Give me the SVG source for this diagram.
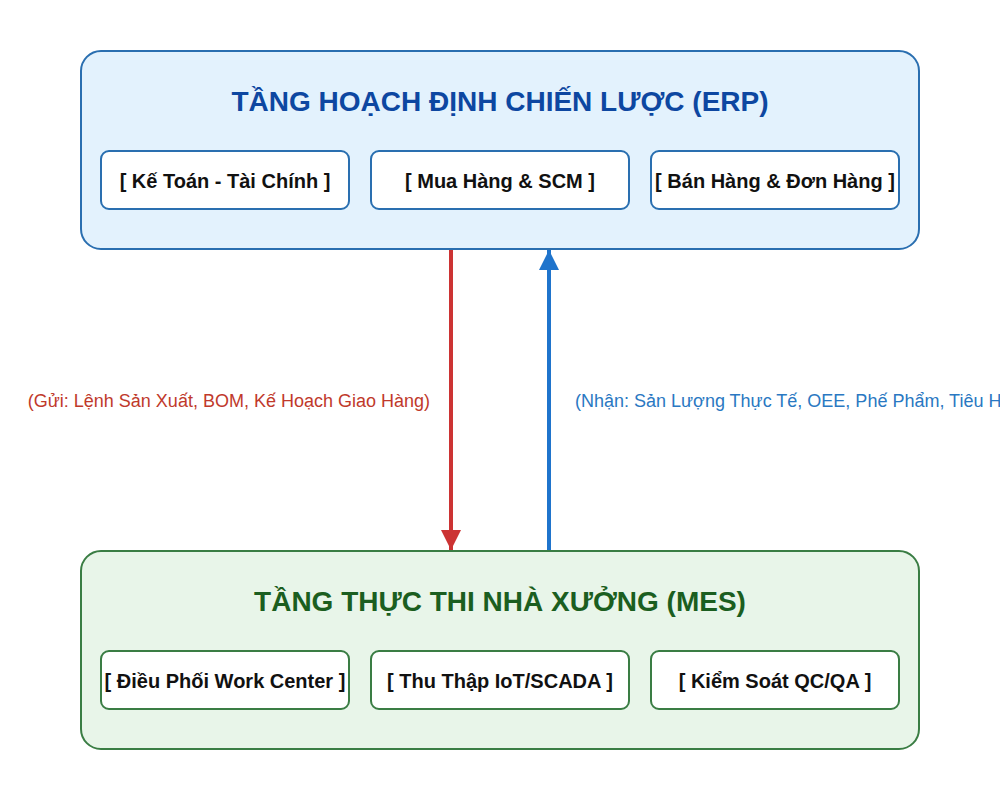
<svg xmlns="http://www.w3.org/2000/svg" width="1000" height="800" viewBox="0 0 1000 800">
<defs>
<style>
text{font-family:"Liberation Sans",Arial,sans-serif}
.erp{fill:#e3f2fd;stroke:#2a6fb0;stroke-width:2}
.mes{fill:#e8f5e9;stroke:#3a7d44;stroke-width:2}
.subE{fill:#fff;stroke:#2a6fb0;stroke-width:2}
.subM{fill:#fff;stroke:#3a7d44;stroke-width:2}
.title{font-size:28px;font-weight:bold;text-anchor:middle}
.sub{font-size:20px;font-weight:bold;text-anchor:middle;fill:#111}
.lbl{font-size:18px}
</style>
<marker id="hr" markerWidth="20" markerHeight="20" viewBox="0 0 10 10" refX="10" refY="5" orient="auto" markerUnits="userSpaceOnUse"><path d="M0,0 L10,5 L0,10 z" fill="#cc3333"/></marker>
<marker id="hb" markerWidth="20" markerHeight="20" viewBox="0 0 10 10" refX="10" refY="5" orient="auto" markerUnits="userSpaceOnUse"><path d="M0,0 L10,5 L0,10 z" fill="#1f74cc"/></marker>
</defs>
<rect width="1000" height="800" fill="#fff"/>
<g id="erp">
<rect class="erp" x="81" y="51" width="838" height="198" rx="20"/>
<text class="title" x="500" y="111" fill="#0d47a1">TẦNG HOẠCH ĐỊNH CHIẾN LƯỢC (ERP)</text>
</g>
<g id="erp-ketoan"><rect class="subE" x="101" y="151" width="248" height="58" rx="8"/><text class="sub" x="225" y="188">[ Kế Toán - Tài Chính ]</text></g>
<g id="erp-muahang"><rect class="subE" x="371" y="151" width="258" height="58" rx="8"/><text class="sub" x="500" y="188">[ Mua Hàng &amp; SCM ]</text></g>
<g id="erp-banhang"><rect class="subE" x="651" y="151" width="248" height="58" rx="8"/><text class="sub" x="775" y="188">[ Bán Hàng &amp; Đơn Hàng ]</text></g>
<g id="mes">
<rect class="mes" x="81" y="551" width="838" height="198" rx="20"/>
<text class="title" x="500" y="611" fill="#1b5e20">TẦNG THỰC THI NHÀ XƯỞNG (MES)</text>
</g>
<g id="mes-dieuphoi"><rect class="subM" x="101" y="651" width="248" height="58" rx="8"/><text class="sub" x="225" y="688">[ Điều Phối Work Center ]</text></g>
<g id="mes-thuthap"><rect class="subM" x="371" y="651" width="258" height="58" rx="8"/><text class="sub" x="500" y="688">[ Thu Thập IoT/SCADA ]</text></g>
<g id="mes-kiemsoat"><rect class="subM" x="651" y="651" width="248" height="58" rx="8"/><text class="sub" x="775" y="688">[ Kiểm Soát QC/QA ]</text></g>
<g id="connectors">
<line x1="451" y1="250" x2="451" y2="550" stroke="#cc3333" stroke-width="4" marker-end="url(#hr)"/>
<line x1="549" y1="550" x2="549" y2="250" stroke="#1f74cc" stroke-width="4" marker-end="url(#hb)"/>
<text class="lbl" x="430" y="407" text-anchor="end" fill="#c0392b">(Gửi: Lệnh Sản Xuất, BOM, Kế Hoạch Giao Hàng)</text>
<text class="lbl" x="575" y="407" fill="#2a78c2">(Nhận: Sản Lượng Thực Tế, OEE, Phế Phẩm, Tiêu Hao)</text>
</g>
</svg>
